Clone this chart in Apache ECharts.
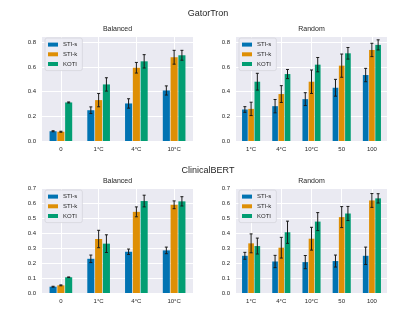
<!DOCTYPE html>
<html><head><meta charset="utf-8">
<script src="https://cdn.jsdelivr.net/npm/echarts@6/dist/echarts.min.js"></script>
<style>html,body{margin:0;padding:0;background:#fff}#c{width:415px;height:332px}</style>
</head><body><div id="c"></div>
<script>
const seriesNames = ['STI-s', 'STI-k', 'KOTI'];
const balancedCats = ['0', '1°C', '4°C', '10°C'];
const randomCats = ['1°C', '4°C', '10°C', '50', '100'];

// GatorTron - Balanced
const gtBalSTIs = [0.079, 0.249, 0.304, 0.409];
const gtBalSTIsErr = [0.004, 0.027, 0.038, 0.037];
const gtBalSTIk = [0.075, 0.331, 0.593, 0.678];
const gtBalSTIkErr = [0.004, 0.054, 0.043, 0.056];
const gtBalKOTI = [0.312, 0.458, 0.645, 0.694];
const gtBalKOTIErr = [0.004, 0.054, 0.054, 0.040];
// GatorTron - Random
const gtRandSTIs = [0.255, 0.282, 0.339, 0.431, 0.534];
const gtRandSTIsErr = [0.023, 0.054, 0.052, 0.068, 0.054];
const gtRandSTIk = [0.260, 0.380, 0.480, 0.610, 0.737];
const gtRandSTIkErr = [0.054, 0.068, 0.095, 0.094, 0.054];
const gtRandKOTI = [0.480, 0.542, 0.618, 0.710, 0.778];
const gtRandKOTIErr = [0.068, 0.037, 0.058, 0.047, 0.041];
// ClinicalBERT - Balanced
const cbBalSTIs = [0.042, 0.228, 0.275, 0.284];
const cbBalSTIsErr = [0.003, 0.025, 0.018, 0.022];
const cbBalSTIk = [0.051, 0.360, 0.541, 0.588];
const cbBalSTIkErr = [0.003, 0.058, 0.033, 0.026];
const cbBalKOTI = [0.105, 0.329, 0.613, 0.611];
const cbBalKOTIErr = [0.002, 0.059, 0.039, 0.031];
// ClinicalBERT - Random
const cbRandSTIs = [0.248, 0.210, 0.206, 0.213, 0.248];
const cbRandSTIsErr = [0.023, 0.041, 0.044, 0.040, 0.058];
const cbRandSTIk = [0.331, 0.302, 0.362, 0.506, 0.617];
const cbRandSTIkErr = [0.063, 0.069, 0.076, 0.070, 0.046];
const cbRandKOTI = [0.313, 0.405, 0.476, 0.530, 0.631];
const cbRandKOTIErr = [0.053, 0.074, 0.060, 0.047, 0.031];

const colors = ['#0173B2', '#DE8F05', '#029E73'];
const FONT = 'Liberation Sans, Arial, sans-serif';
const TXT = '#262626';

const panels = [
  { cats: balancedCats, vals: [gtBalSTIs, gtBalSTIk, gtBalKOTI], errs: [gtBalSTIsErr, gtBalSTIkErr, gtBalKOTIErr], max: 0.85, interval: 0.2, left: 42, top: 36, title: 'Balanced' },
  { cats: randomCats, vals: [gtRandSTIs, gtRandSTIk, gtRandKOTI], errs: [gtRandSTIsErr, gtRandSTIkErr, gtRandKOTIErr], max: 0.85, interval: 0.2, left: 236, top: 36, title: 'Random' },
  { cats: balancedCats, vals: [cbBalSTIs, cbBalSTIk, cbBalKOTI], errs: [cbBalSTIsErr, cbBalSTIkErr, cbBalKOTIErr], max: 0.7, interval: 0.1, left: 42, top: 188, title: 'Balanced' },
  { cats: randomCats, vals: [cbRandSTIs, cbRandSTIk, cbRandKOTI], errs: [cbRandSTIsErr, cbRandSTIkErr, cbRandKOTIErr], max: 0.7, interval: 0.1, left: 236, top: 188, title: 'Random' }
];
const GW = 151, GH = 105;

const grid = [], xAxis = [], yAxis = [], series = [], legend = [], title = [];
title.push({ text: 'GatorTron', left: 208, top: 9, padding: 0, textAlign: 'center', textStyle: { fontFamily: FONT, fontSize: 9, fontWeight: 'normal', color: TXT } });
title.push({ text: 'ClinicalBERT', left: 208, top: 166, padding: 0, textAlign: 'center', textStyle: { fontFamily: FONT, fontSize: 9, fontWeight: 'normal', color: TXT } });

panels.forEach((p, gi) => {
  grid.push({ left: p.left, top: p.top, width: GW, height: GH, show: true, backgroundColor: '#EAEAF2', borderWidth: 0, containLabel: false });
  title.push({ text: p.title, left: p.left + GW / 2, top: p.top - 10, padding: 0, textAlign: 'center', textStyle: { fontFamily: FONT, fontSize: 7, fontWeight: 'normal', color: TXT } });
  xAxis.push({
    type: 'category', gridIndex: gi, data: p.cats,
    axisLine: { show: false }, axisTick: { show: false, alignWithLabel: true },
    axisLabel: { fontFamily: FONT, fontSize: 6, color: TXT, margin: 5 },
    splitLine: { show: true, alignWithLabel: true, lineStyle: { color: '#ffffff', width: 1 } }
  });
  yAxis.push({
    type: 'value', gridIndex: gi, min: 0, max: p.max, interval: p.interval,
    axisLine: { show: false }, axisTick: { show: false },
    axisLabel: { fontFamily: FONT, fontSize: 6, color: TXT, margin: 6, showMaxLabel: p.max === 0.7, formatter: v => v.toFixed(1) },
    splitLine: { show: true, lineStyle: { color: '#ffffff', width: 1 } }
  });
  for (let k = 0; k < 3; k++) {
    series.push({
      type: 'bar', name: seriesNames[k], xAxisIndex: gi, yAxisIndex: gi,
      data: p.vals[k], barCategoryGap: '40%', barGap: '10%',
      itemStyle: { color: colors[k] }, z: 2
    });
  }
  for (let k = 0; k < 3; k++) {
    const d = p.vals[k].map((v, i) => [i, v, p.errs[k][i]]);
    series.push({
      type: 'custom', name: seriesNames[k] + ' err', xAxisIndex: gi, yAxisIndex: gi,
      data: d, z: 10, silent: true,
      renderItem: (params, api) => {
        const i = api.value(0), v = api.value(1), e = api.value(2);
        const bw = api.size([1, 0])[0];
        const w = bw * 0.6 / 3.2;
        const off = (k - 1) * w * 1.1;
        const top = api.coord([i, v + e]);
        const bot = api.coord([i, v - e]);
        const x = top[0] + off;
        const cap = 1.5;
        const st = { stroke: '#1a1a1a', lineWidth: 1 };
        return { type: 'group', children: [
          { type: 'line', shape: { x1: x, y1: top[1], x2: x, y2: bot[1] }, style: st },
          { type: 'line', shape: { x1: x - cap, y1: top[1], x2: x + cap, y2: top[1] }, style: st },
          { type: 'line', shape: { x1: x - cap, y1: bot[1], x2: x + cap, y2: bot[1] }, style: st }
        ] };
      }
    });
  }
  legend.push({
    data: seriesNames, orient: 'vertical', left: p.left + 3, top: p.top + 2,
    itemWidth: 10, itemHeight: 4, itemGap: 2.5, icon: 'rect',
    padding: [3, 5, 3, 3],
    backgroundColor: 'rgba(236,236,244,0.9)', borderColor: '#d4d4dc', borderWidth: 0.8, borderRadius: 2,
    textStyle: { fontFamily: FONT, fontSize: 6, color: TXT, lineHeight: 7.2 }
  });
});

const chart = echarts.init(document.getElementById('c'), null, { renderer: 'canvas' });
chart.setOption({ animation: false, backgroundColor: '#ffffff', title, grid, xAxis, yAxis, series, legend });
</script></body></html>
